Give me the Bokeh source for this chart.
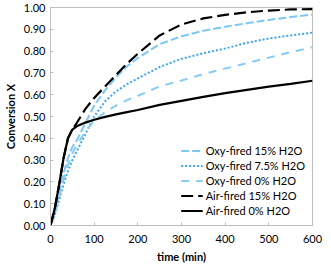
from bokeh.plotting import figure
from bokeh.models import Range1d, FixedTicker, Legend, LegendItem, CustomJSTickFormatter
from bokeh.embed import file_html
from bokeh.resources import INLINE

time = [0, 10, 20, 30, 40, 50, 60, 80, 100, 125, 150, 175, 200, 250, 300, 350, 400, 450, 500, 550, 600]
oxy15 = [0, 0.06, 0.15, 0.24, 0.31, 0.36, 0.39, 0.47, 0.55, 0.62, 0.68, 0.73, 0.768, 0.832, 0.868, 0.893, 0.912, 0.928, 0.943, 0.956, 0.968]
oxy75 = [0, 0.05, 0.12, 0.19, 0.25, 0.30, 0.34, 0.42, 0.50, 0.57, 0.615, 0.648, 0.675, 0.727, 0.765, 0.79, 0.812, 0.838, 0.858, 0.872, 0.885]
oxy0 = [0, 0.05, 0.13, 0.21, 0.28, 0.33, 0.37, 0.43, 0.48, 0.52, 0.55, 0.575, 0.595, 0.638, 0.665, 0.695, 0.72, 0.745, 0.77, 0.795, 0.818]
air15 = [0, 0.08, 0.19, 0.31, 0.40, 0.44, 0.47, 0.535, 0.585, 0.638, 0.69, 0.742, 0.788, 0.872, 0.922, 0.95, 0.966, 0.978, 0.986, 0.991, 0.993]
air0 = [0, 0.08, 0.19, 0.31, 0.40, 0.44, 0.455, 0.472, 0.485, 0.498, 0.51, 0.52, 0.53, 0.553, 0.572, 0.59, 0.607, 0.622, 0.637, 0.65, 0.664]

labels = ["Oxy-fired 15% H2O", "Oxy-fired 7.5% H2O", "Oxy-fired 0% H2O", "Air-fired 15% H2O", "Air-fired 0% H2O"]
x_ticks = [0, 100, 200, 300, 400, 500, 600]
y_ticks = [0.0, 0.1, 0.2, 0.3, 0.4, 0.5, 0.6, 0.7, 0.8, 0.9, 1.0]

FONT = "Lato"
GRAY = "#BFBFBF"

p = figure(frame_width=262, frame_height=218, x_range=Range1d(0, 600), y_range=Range1d(0, 1),
           output_backend="svg", toolbar_location=None,
           min_border_left=4, min_border_right=11, min_border_top=7, min_border_bottom=4)
p.outline_line_color = GRAY
p.outline_line_width = 1
p.xgrid.visible = False
p.ygrid.visible = False

for ax in (p.xaxis[0], p.yaxis[0]):
    ax.axis_line_color = GRAY
    ax.major_tick_line_color = GRAY
    ax.major_tick_in = 3
    ax.major_tick_out = 0
    ax.minor_tick_line_color = None
    ax.major_label_text_font = FONT
    ax.major_label_text_font_size = "11px"
    ax.major_label_text_color = "#000000"
    ax.axis_label_text_font = FONT
    ax.axis_label_text_font_size = "11px"
    ax.axis_label_text_font_style = "bold"
    ax.axis_label_text_color = "#000000"

p.xaxis.ticker = FixedTicker(ticks=x_ticks)
p.yaxis.ticker = FixedTicker(ticks=y_ticks)
p.yaxis.formatter = CustomJSTickFormatter(code="return tick.toFixed(2);")
p.xaxis.major_label_standoff = 9
p.yaxis.major_label_standoff = 5
p.xaxis.axis_label = "time (min)"
p.yaxis.axis_label = "Conversion X"
p.xaxis.axis_label_standoff = 4
p.yaxis.axis_label_standoff = 4

r1 = p.line(time, oxy15, line_color="#7CC8F2", line_width=2, line_dash="8 3")
r2 = p.line(time, oxy75, line_color="#3DA5EF", line_width=2, line_dash="2 2")
r3 = p.line(time, oxy0, line_color="#86CCF4", line_width=2, line_dash="8 7")
r4 = p.line(time, air15, line_color="#000000", line_width=2.2, line_dash="12 5")
r5 = p.line(time, air0, line_color="#000000", line_width=2.2)

legend = Legend(items=[LegendItem(label=l, renderers=[r]) for l, r in zip(labels, [r1, r2, r3, r4, r5])],
                location="bottom_right")
legend.background_fill_alpha = 0
legend.border_line_color = None
legend.label_text_font = FONT
legend.label_text_font_size = "11px"
legend.label_text_color = "#000000"
legend.glyph_width = 22
legend.label_standoff = 3
legend.spacing = 0
legend.label_height = 15
legend.glyph_height = 15
legend.padding = 0
legend.margin = 7
p.add_layout(legend)

open("out.html", "w").write(file_html(p, INLINE))
